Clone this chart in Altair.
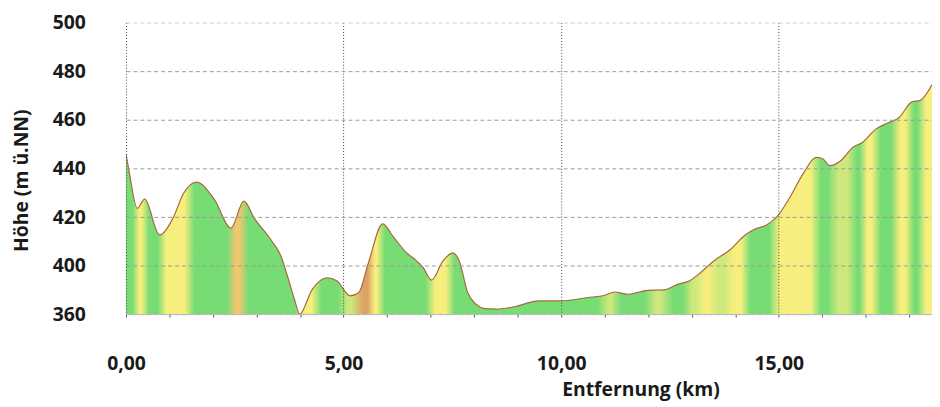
import altair as alt
import pandas as pd

# Elevation profile (distance in km, height in m)
KM = [0.00, 0.07, 0.26, 0.43, 0.77, 1.09, 1.32, 1.62, 2.04, 2.41, 2.71, 2.95,
      3.33, 3.56, 3.71, 3.87, 3.99, 4.28, 4.62, 4.85, 5.15, 5.35, 5.57, 5.90,
      6.14, 6.45, 6.64, 6.83, 7.02, 7.28, 7.51, 7.66, 7.85, 8.05, 8.25, 8.50,
      8.95, 9.48, 9.94, 10.62, 11.00, 11.23, 11.53, 11.99, 12.37, 12.67, 12.94,
      13.20, 13.50, 13.88, 14.23, 14.42, 14.72, 14.95, 15.26, 15.56, 15.86,
      16.01, 16.17, 16.43, 16.70, 16.92, 17.23, 17.53, 17.76, 18.06, 18.25, 18.52]
ELEV = [446, 439, 423.6, 427.4, 412.7, 420, 429.7, 434.4, 427, 415.5, 426.6, 419.5,
        410.7, 404, 391.5, 372.3, 360, 380.5, 390.1, 387.4, 375, 377.8, 401.2, 417.2,
        412, 405.3, 402.6, 398.4, 388.2, 401.9, 405.3, 401.9, 377.8, 368, 364.5, 364.1,
        366.3, 370.9, 370.9, 373.7, 375.6, 378.3, 376.4, 379.7, 380, 384.6, 387.4,
        394.3, 401.9, 406.6, 412.7, 414.8, 416.8, 420, 428.3, 437.9, 444.6,
        444, 441.2, 443.3, 448.7, 450.7, 456.2, 458.9, 460.9, 467.4, 468, 474.5]

# Gradient classes along the route (start km, end km, class)
BAND_START = [0.00, 0.25, 0.46, 0.86, 1.50, 2.45, 2.74, 4.05, 4.42, 5.02, 5.38, 5.68,
              5.88, 7.04, 7.48, 11.05, 11.30, 12.10, 12.50, 12.95, 13.25, 13.55, 13.90,
              14.28, 14.95, 15.90, 16.30, 16.75, 16.97, 17.28, 17.72, 18.04, 18.32]
BAND_END = [0.22, 0.42, 0.80, 1.42, 2.40, 2.68, 3.95, 4.33, 4.95, 5.25, 5.62, 5.80,
            6.95, 7.42, 10.90, 11.20, 12.00, 12.35, 12.85, 13.15, 13.45, 13.80, 14.20,
            14.85, 15.80, 16.20, 16.65, 16.90, 17.20, 17.65, 17.98, 18.24, 18.52]
BAND_CLASS = ["g", "y", "g", "y", "g", "lo", "g", "y", "g", "lg", "o", "y",
              "g", "y", "g", "lg", "g", "lg", "g", "lg", "y", "lg", "y",
              "g", "y", "g", "lg", "g", "y", "g", "y", "g", "y"]
CLASS_COLORS = {"g": "#78dc74", "y": "#f6ef7e", "lg": "#cde87c",
                "o": "#dea364", "lo": "#f0c66f"}

Y_TICKS = [360, 400, 420, 440, 460, 480, 500]
X_TICKS = list(range(0, 19))

km_end = KM[-1]
stops = []
for s, e, c in zip(BAND_START, BAND_END, BAND_CLASS):
    inset = min(0.07, (e - s) / 3)
    a = s + (inset if s > 0 else 0)
    b = e - (inset if e < km_end else 0)
    stops.append(alt.GradientStop(offset=a / km_end, color=CLASS_COLORS[c]))
    stops.append(alt.GradientStop(offset=b / km_end, color=CLASS_COLORS[c]))
fill = alt.Gradient(gradient="linear", stops=stops, x1=0, x2=1, y1=0, y2=0)

df = pd.DataFrame({"km": KM, "elev": ELEV})

W, H = 813, 294
FONT = "Open Sans"

xscale = alt.Scale(domain=[0, 18.52], nice=False, zero=False)
yscale = alt.Scale(domain=[360, 400, 500], range=[H, H - 48.7, 0], nice=False, zero=False)

xaxis = alt.Axis(
    values=X_TICKS,
    title="Entfernung (km)",
    labelExpr="datum.value % 5 === 0 ? replace(format(datum.value, '.2f'), '.', ',') : ''",
    labelOverlap=False, labelFlush=False, labelBound=False,
    labelFont=FONT, labelFontWeight="bold", labelFontSize=19.5, labelColor="#1a1a1a",
    labelBaseline="alphabetic", labelPadding=53,
    tickSize=3, tickColor="#555555", domainColor="#b8b8b8",
    grid=True, gridColor="#444444", gridDash=[1, 2],
    gridOpacity={"condition": {"test": "datum.value % 5 === 0", "value": 1}, "value": 0},
    titleFont=FONT, titleFontWeight="bold", titleFontSize=19.5, titleColor="#1a1a1a",
    titleX=519, titleY=82, titleAlign="center", titleBaseline="alphabetic",
    zindex=1,
)
yaxis = alt.Axis(
    values=Y_TICKS,
    title="Höhe (m ü.NN)",
    labelFont=FONT, labelFontWeight="bold", labelFontSize=19.5, labelColor="#1a1a1a",
    labelPadding=41, ticks=False, domain=False, labelOverlap=False,
    grid=True, gridDash=[4, 3],
    gridColor={"condition": {"test": "datum.value === 500", "value": "#cfcfcf"}, "value": "#9a9a9a"},
    titleFont=FONT, titleFontWeight="bold", titleFontSize=19.5, titleColor="#1a1a1a",
    titleX=-105, titleY=159, titleAngle=-90, titleAlign="center", titleBaseline="middle",
    zindex=1,
)

area = alt.Chart(df).mark_area(interpolate="monotone", clip=True, color=fill).encode(
    x=alt.X("km:Q", scale=xscale, axis=xaxis),
    y=alt.Y("elev:Q", scale=yscale, axis=yaxis),
    y2=alt.datum(360),
)
line = alt.Chart(df).mark_line(interpolate="monotone", clip=True, color="#a8683c",
                                strokeWidth=1.2).encode(
    x=alt.X("km:Q"),
    y=alt.Y("elev:Q"),
)

chart = (area + line).properties(
    width=W, height=H,
    padding={"left": 119, "top": 13, "right": 0, "bottom": 90},
    autosize=alt.AutoSizeParams(type="none"),
    background="white",
).configure_view(strokeWidth=0)

chart.save("out.html", embed_options={"renderer": "svg", "actions": False})
